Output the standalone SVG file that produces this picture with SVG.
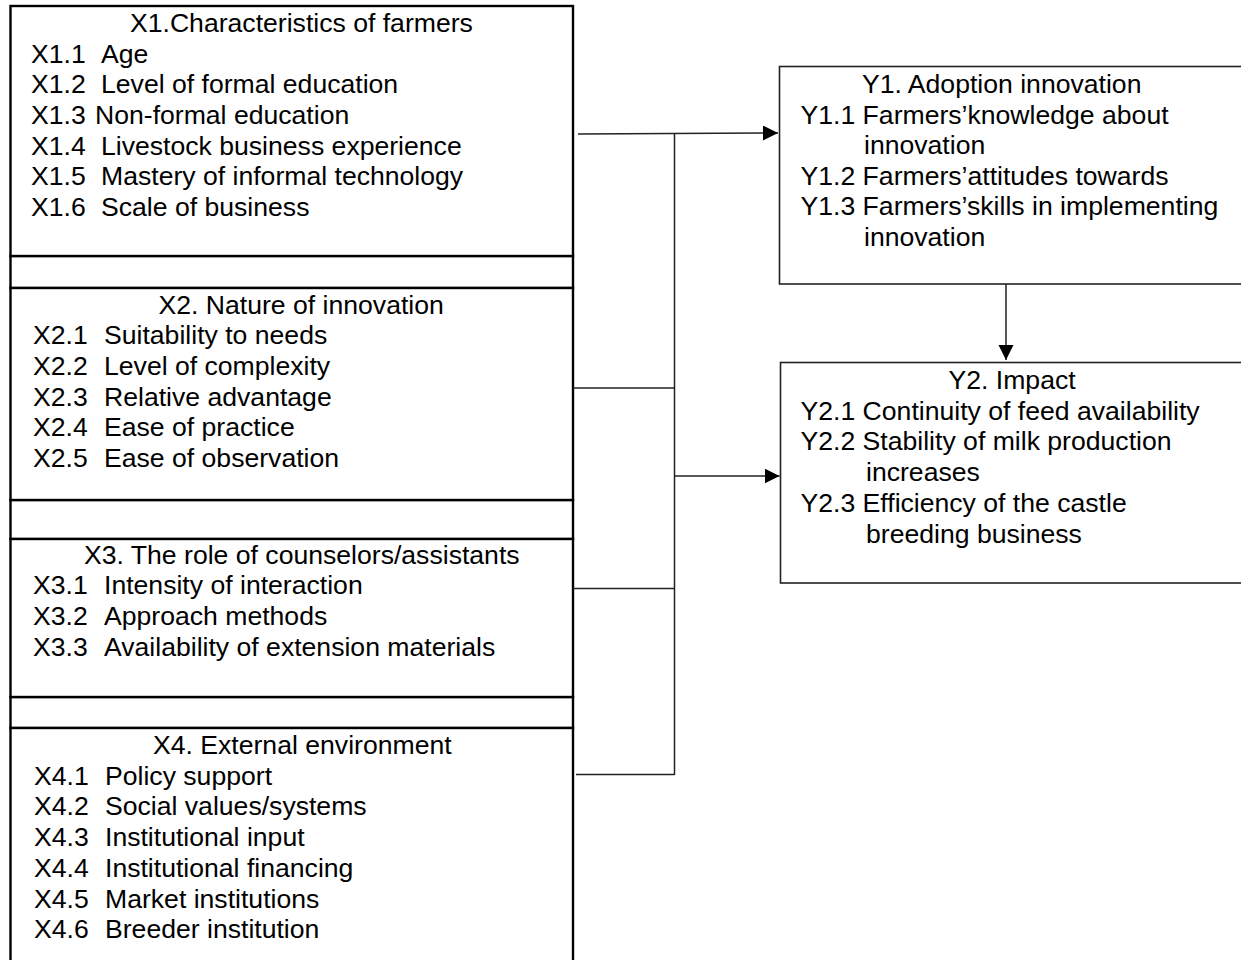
<svg xmlns="http://www.w3.org/2000/svg" width="1241" height="960" viewBox="0 0 1241 960">
<style>
  .box { fill: #fff; stroke: #000; stroke-width: 2.4; }
  .ybox { fill: #fff; stroke: #222; stroke-width: 1.6; }
  .conn { fill: none; stroke: #222; stroke-width: 1.5; }
  text { font-family: "Liberation Sans", Arial, sans-serif; font-size: 26.6px; fill: #000; }
</style>
<defs>
  <marker id="arr" markerUnits="userSpaceOnUse" markerWidth="16" markerHeight="16" refX="15" refY="7.5" orient="auto">
    <path d="M0,0 L15,7.5 L0,15 Z" fill="#000"/>
  </marker>
</defs>
<rect width="1241" height="960" fill="#fff"/>

<g id="spacers">
  <rect class="box" x="10.5" y="256" width="562.5" height="32"/>
  <rect class="box" x="10.5" y="500" width="562.5" height="39"/>
  <rect class="box" x="10.5" y="697" width="562.5" height="31"/>
</g>

<g id="X1">
  <rect class="box" x="10.5" y="6" width="562.5" height="250"/>
  <text x="130" y="32">X1.Characteristics of farmers</text>
  <text x="31" y="62.7">X1.1<tspan x="101">Age</tspan></text>
  <text x="31" y="93.3">X1.2<tspan x="101">Level of formal education</tspan></text>
  <text x="31" y="124">X1.3<tspan x="95">Non-formal education</tspan></text>
  <text x="31" y="154.6">X1.4<tspan x="101">Livestock business experience</tspan></text>
  <text x="31" y="185.3">X1.5<tspan x="101">Mastery of informal technology</tspan></text>
  <text x="31" y="216">X1.6<tspan x="101">Scale of business</tspan></text>
</g>

<g id="X2">
  <rect class="box" x="10.5" y="288" width="562.5" height="212"/>
  <text x="158.5" y="313.5">X2. Nature of innovation</text>
  <text x="33" y="344.2">X2.1<tspan x="104">Suitability to needs</tspan></text>
  <text x="33" y="374.9">X2.2<tspan x="104">Level of complexity</tspan></text>
  <text x="33" y="405.6">X2.3<tspan x="104">Relative advantage</tspan></text>
  <text x="33" y="436.3">X2.4<tspan x="104">Ease of practice</tspan></text>
  <text x="33" y="467">X2.5<tspan x="104">Ease of observation</tspan></text>
</g>

<g id="X3">
  <rect class="box" x="10.5" y="539" width="562.5" height="158"/>
  <text x="84" y="563.5">X3. The role of counselors/assistants</text>
  <text x="33" y="594.2">X3.1<tspan x="104">Intensity of interaction</tspan></text>
  <text x="33" y="624.9">X3.2<tspan x="104">Approach methods</tspan></text>
  <text x="33" y="655.6">X3.3<tspan x="104">Availability of extension materials</tspan></text>
</g>

<g id="X4">
  <rect class="box" x="10.5" y="728" width="562.5" height="250"/>
  <text x="153" y="754">X4. External environment</text>
  <text x="34" y="784.7">X4.1<tspan x="105">Policy support</tspan></text>
  <text x="34" y="815.4">X4.2<tspan x="105">Social values/systems</tspan></text>
  <text x="34" y="846.1">X4.3<tspan x="105">Institutional input</tspan></text>
  <text x="34" y="876.8">X4.4<tspan x="105">Institutional financing</tspan></text>
  <text x="34" y="907.5">X4.5<tspan x="105">Market institutions</tspan></text>
  <text x="34" y="938.2">X4.6<tspan x="105">Breeder institution</tspan></text>
</g>

<g id="Y1">
  <rect class="ybox" x="779.5" y="66.5" width="470" height="217.5"/>
  <text x="862" y="92.8">Y1. Adoption innovation</text>
  <text x="800.5" y="123.5">Y1.1 Farmers’knowledge about</text>
  <text x="864" y="154">innovation</text>
  <text x="800.5" y="184.6">Y1.2 Farmers’attitudes towards</text>
  <text x="800.5" y="215.2">Y1.3 Farmers’skills in implementing</text>
  <text x="864" y="245.6">innovation</text>
</g>

<g id="Y2">
  <rect class="ybox" x="780.5" y="362.5" width="470" height="220.5"/>
  <text x="948.5" y="388.6">Y2. Impact</text>
  <text x="800.5" y="419.5">Y2.1 Continuity of feed availability</text>
  <text x="800.5" y="450.2">Y2.2 Stability of milk production</text>
  <text x="866" y="481">increases</text>
  <text x="800.5" y="511.6">Y2.3 Efficiency of the castle</text>
  <text x="866" y="543">breeding business</text>
</g>

<g id="connectors">
  <line class="conn" x1="578" y1="134" x2="778" y2="133" marker-end="url(#arr)"/>
  <line class="conn" x1="674.5" y1="133.5" x2="674.5" y2="775"/>
  <line class="conn" x1="573" y1="388" x2="674.5" y2="388"/>
  <line class="conn" x1="674.5" y1="476" x2="779.5" y2="476" marker-end="url(#arr)"/>
  <line class="conn" x1="573" y1="588.5" x2="674.5" y2="588.5"/>
  <line class="conn" x1="576" y1="774.5" x2="674.5" y2="774.5"/>
  <line class="conn" x1="1006" y1="284" x2="1006" y2="360" marker-end="url(#arr)"/>
</g>
</svg>
